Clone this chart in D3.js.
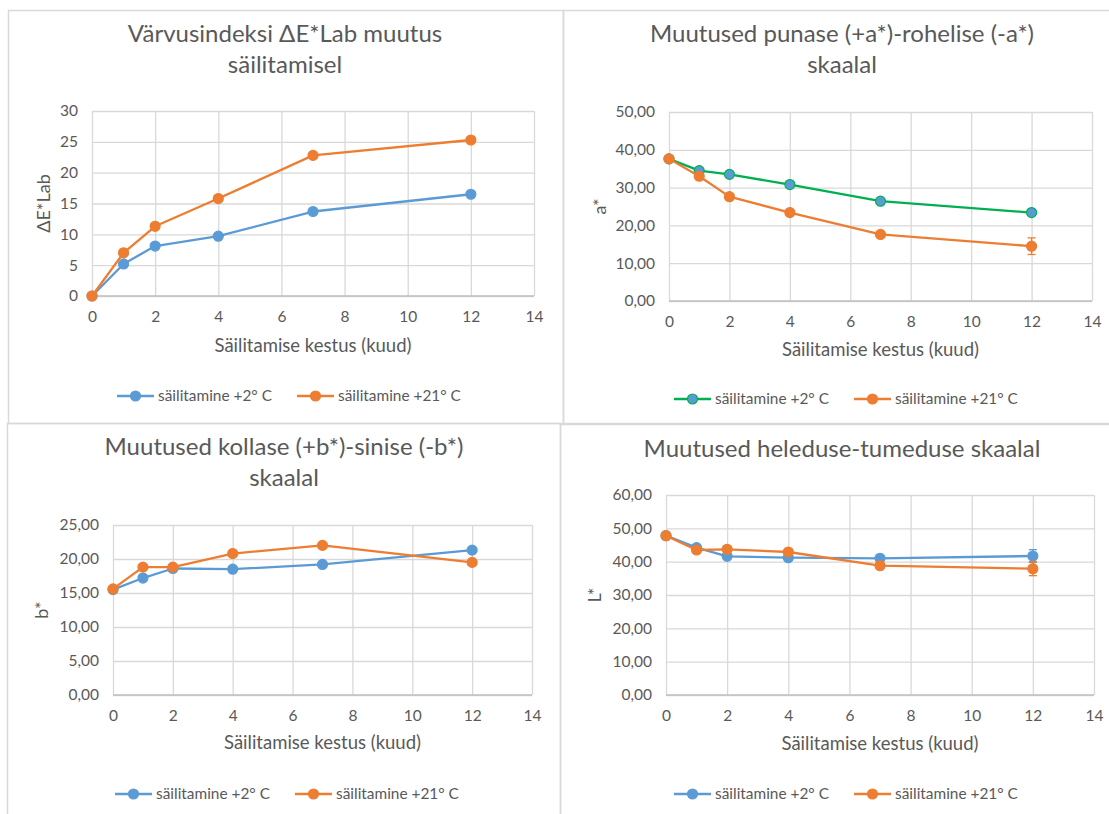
<!DOCTYPE html>
<html>
<head>
<meta charset="utf-8">
<script src="https://cdn.jsdelivr.net/npm/d3@7/dist/d3.min.js"></script>
<style>
	body { margin: 0; background: #ffffff; }
	svg { display: block; font-family: Lato, "Open Sans", sans-serif; }
</style>
</head>
<body>
<div id="chart"></div>
<script>
// storage time, months
var months = [0, 1, 2, 4, 7, 12];
var seriesNames = ['säilitamine +2° C', 'säilitamine +21° C'];

// colour index dE*Lab
var dE_2 = [0, 5.2, 8.1, 9.7, 13.7, 16.5];
var dE_21 = [0, 7.0, 11.3, 15.8, 22.8, 25.3];

// a* (red-green)
var a_2 = [37.6, 34.5, 33.5, 30.8, 26.4, 23.4];
var a_2_err = [0.4, 0.4, 0.4, 0.4, 0.5, 0.5];
var a_21 = [37.6, 33.0, 27.6, 23.4, 17.6, 14.5];
var a_21_err = [0.4, 0.6, 0.6, 0.5, 0.6, 2.2];

// b* (yellow-blue)
var b_2 = [15.5, 17.2, 18.6, 18.5, 19.2, 21.3];
var b_21 = [15.6, 18.8, 18.8, 20.8, 22.0, 19.5];

// L* (light-dark)
var L_2 = [47.8, 44.2, 41.6, 41.2, 41.0, 41.7];
var L_2_err = [0.4, 0.8, 0.5, 0.5, 1.0, 1.9];
var L_21 = [47.8, 43.5, 43.7, 42.9, 38.8, 37.9];
var L_21_err = [0.4, 0.6, 0.6, 0.6, 0.8, 2.1];

var xTicks = [0, 2, 4, 6, 8, 10, 12, 14];

var BLUE = '#5b9bd5', ORANGE = '#ed7d31', GREEN = '#00b050';
var TEXT = '#595959', GRID = '#d9d9d9';

var comma = d3.formatLocale({decimal: ',', thousands: ' ', grouping: [3], currency: ['', '']}).format('.2f');

var W = 1109, H = 814;
var svg = d3.select('#chart').append('svg')
	.attr('width', W)
	.attr('height', H);

// chart frames (overlapping like pasted Excel charts)
var frames = [
	[8, 10, 555, 413], [563, 10, 560, 413],
	[7, 423, 553, 400], [560, 424, 560, 400]
];
svg.selectAll('rect.frame').data(frames).enter().append('rect')
	.attr('class', 'frame')
	.attr('x', function(d) { return d[0] + 0.5; })
	.attr('y', function(d) { return d[1] + 0.5; })
	.attr('width', function(d) { return d[2]; })
	.attr('height', function(d) { return d[3]; })
	.attr('fill', 'none')
	.attr('stroke', '#d9d9d9')
	.attr('stroke-width', 1.5);

var panels = [
	{
		title: ['Värvusindeksi ΔE*Lab muutus', 'säilitamisel'], titleX: 285, titleY: 42,
		left: 92, right: 534, top: 111, bottom: 296,
		yMax: 30, yStep: 5, fmt: d3.format('d'), yLabel: 'ΔE*Lab', yLabelX: 44,
		xLabelY: 346, legendY: 396, legendX: [117, 297],
		series: [
			{values: dE_2, line: BLUE, fill: BLUE},
			{values: dE_21, line: ORANGE, fill: ORANGE}
		]
	},
	{
		title: ['Muutused punase (+a*)-rohelise (-a*)', 'skaalal'], titleX: 842, titleY: 42,
		left: 669, right: 1092, top: 112, bottom: 301,
		yMax: 50, yStep: 10, fmt: comma, yLabel: 'a*', yLabelX: 600,
		xLabelY: 350, legendY: 399, legendX: [674, 854],
		series: [
			{values: a_2, err: a_2_err, line: GREEN, fill: BLUE},
			{values: a_21, err: a_21_err, line: ORANGE, fill: ORANGE}
		]
	},
	{
		title: ['Muutused kollase (+b*)-sinise (-b*)', 'skaalal'], titleX: 284, titleY: 455,
		left: 113, right: 532, top: 525, bottom: 695,
		yMax: 25, yStep: 5, fmt: comma, yLabel: 'b*', yLabelX: 42,
		xLabelY: 743, legendY: 794, legendX: [115, 295],
		series: [
			{values: b_2, line: BLUE, fill: BLUE},
			{values: b_21, line: ORANGE, fill: ORANGE}
		]
	},
	{
		title: ['Muutused heleduse-tumeduse skaalal'], titleX: 842, titleY: 457,
		left: 666, right: 1094, top: 495, bottom: 695,
		yMax: 60, yStep: 10, fmt: comma, yLabel: 'L*', yLabelX: 595,
		xLabelY: 744, legendY: 794, legendX: [674, 854],
		series: [
			{values: L_2, err: L_2_err, line: BLUE, fill: BLUE},
			{values: L_21, err: L_21_err, line: ORANGE, fill: ORANGE}
		]
	}
];

panels.forEach(function(p) {
	var g = svg.append('g');
	var x = d3.scaleLinear().domain([0, 14]).range([p.left, p.right]);
	var y = d3.scaleLinear().domain([0, p.yMax]).range([p.bottom, p.top]);
	var yTicks = d3.range(0, p.yMax + p.yStep / 2, p.yStep);

	// title
	g.append('text')
		.attr('x', p.titleX)
		.attr('y', p.titleY)
		.attr('text-anchor', 'middle')
		.attr('dy', '0.35em')
		.attr('fill', TEXT)
		.style('font-size', '24px')
		.selectAll('tspan').data(p.title).enter().append('tspan')
			.attr('x', p.titleX)
			.attr('dy', function(d, i) { return i ? 31 : 0; })
			.text(function(d) { return d; });

	// gridlines + tick labels
	var xAxis = g.append('g')
		.attr('transform', 'translate(0,' + p.bottom + ')')
		.call(d3.axisBottom(x).tickValues(xTicks).tickSize(-(p.bottom - p.top)).tickPadding(15).tickFormat(d3.format('d')));
	var yAxis = g.append('g')
		.attr('transform', 'translate(' + p.left + ',0)')
		.call(d3.axisLeft(y).tickValues(yTicks).tickSize(-(p.right - p.left)).tickPadding(14).tickFormat(p.fmt));
	[xAxis, yAxis].forEach(function(a) {
		a.select('.domain').remove();
		a.selectAll('.tick line').attr('stroke', GRID).attr('stroke-width', 1.3);
		a.selectAll('.tick text').attr('fill', TEXT).style('font-size', '15.5px').style('font-family', 'Lato, sans-serif');
	});
	// base axis lines a bit darker
	g.append('line')
		.attr('x1', p.left).attr('x2', p.right)
		.attr('y1', p.bottom).attr('y2', p.bottom)
		.attr('stroke', '#bfbfbf').attr('stroke-width', 1.3);

	// axis titles
	g.append('text')
		.attr('x', (p.left + p.right) / 2)
		.attr('y', p.xLabelY)
		.attr('dy', '0.35em')
		.attr('text-anchor', 'middle')
		.attr('fill', TEXT)
		.style('font-size', '18.5px')
		.text('Säilitamise kestus (kuud)');
	g.append('text')
		.attr('transform', 'translate(' + p.yLabelX + ',' + ((p.top + p.bottom) / 2) + ') rotate(-90)')
		.attr('dy', '0.35em')
		.attr('text-anchor', 'middle')
		.attr('fill', TEXT)
		.style('font-size', '18px')
		.text(p.yLabel);

	var line = d3.line()
		.x(function(d, i) { return x(months[i]); })
		.y(function(d) { return y(d); });

	p.series.forEach(function(s) {
		g.append('path')
			.datum(s.values)
			.attr('d', line)
			.attr('fill', 'none')
			.attr('stroke', s.line)
			.attr('stroke-width', 2.3)
			.attr('stroke-linejoin', 'round');

		if (s.err) {
			var eb = g.append('g').selectAll('g').data(s.values).enter().append('g')
				.attr('stroke', s.line === GREEN ? GREEN : s.fill)
				.attr('stroke-width', 1.3);
			eb.append('line')
				.attr('x1', function(d, i) { return x(months[i]); })
				.attr('x2', function(d, i) { return x(months[i]); })
				.attr('y1', function(d, i) { return y(d - s.err[i]); })
				.attr('y2', function(d, i) { return y(d + s.err[i]); });
			[-1, 1].forEach(function(sign) {
				eb.append('line')
					.attr('x1', function(d, i) { return x(months[i]) - 4; })
					.attr('x2', function(d, i) { return x(months[i]) + 4; })
					.attr('y1', function(d, i) { return y(d + sign * s.err[i]); })
					.attr('y2', function(d, i) { return y(d + sign * s.err[i]); });
			});
		}

		g.append('g').selectAll('circle').data(s.values).enter().append('circle')
			.attr('cx', function(d, i) { return x(months[i]); })
			.attr('cy', function(d) { return y(d); })
			.attr('r', 5)
			.attr('fill', s.fill)
			.attr('stroke', s.line)
			.attr('stroke-width', 1.2);
	});

	// legend
	p.series.forEach(function(s, i) {
		var lx = p.legendX[i];
		var lg = g.append('g').attr('transform', 'translate(' + lx + ',' + p.legendY + ')');
		lg.append('line')
			.attr('x1', 0).attr('x2', 37)
			.attr('stroke', s.line).attr('stroke-width', 2.3);
		lg.append('circle')
			.attr('cx', 18.5).attr('r', 5)
			.attr('fill', s.fill).attr('stroke', s.line).attr('stroke-width', 1.2);
		lg.append('text')
			.attr('x', 41)
			.attr('dy', '0.35em')
			.attr('fill', TEXT)
			.style('font-size', '15.4px')
			.text(seriesNames[i]);
	});
});
</script>
</body>
</html>
